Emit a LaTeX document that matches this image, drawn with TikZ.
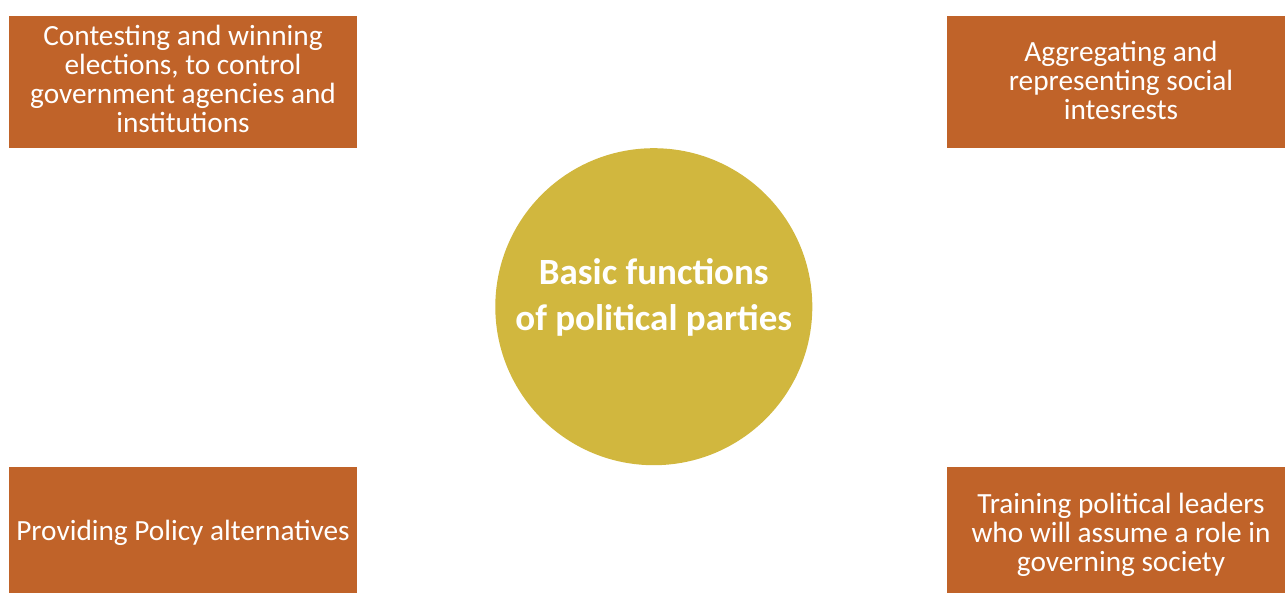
\documentclass[tikz,border=0pt]{standalone}
\usepackage{fontspec}
\setmainfont{Carlito}
\definecolor{boxorange}{RGB}{192,99,41}
\definecolor{circgold}{RGB}{209,183,62}
\begin{document}
\begin{tikzpicture}[x=1pt,y=-1pt,
  fbox/.style={rectangle, fill=boxorange, draw=none, minimum width=348pt, minimum height=132pt, inner sep=0pt},
  ftext/.style={text=white, align=center, inner sep=0pt, font=\fontsize{29.3pt}{29pt}\selectfont},
  hub/.style={circle, fill=circgold, draw=none, minimum size=317pt, inner sep=0pt},
  hubtext/.style={text=white, align=center, inner sep=0pt, font=\bfseries\fontsize{37pt}{46pt}\selectfont}]
\useasboundingbox (0,0) rectangle (1285,592);
\node[hub] (c) at (653.8,306.7) {};
\node[hubtext] (ct) at ([yshift=9pt]c.center) {Basic functions\\of political parties};
\node[fbox] (tl) at (183,82.3) {};
\node[ftext] (tlt) at ([yshift=3pt]tl.center) {Contesting and winning\\elections, to control\\government agencies and\\institutions};
\node[fbox] (tr) at (1121,82.3) {};
\node[ftext] (trt) at ([yshift=2pt]tr.center) {Aggregating and\\representing social\\intesrests};
\node[fbox] (bl) at (183,533) {};
\node[ftext] (blt) at (bl.center) {Providing Policy alternatives};
\node[fbox] (br) at (1121,533) {};
\node[ftext] (brt) at ([yshift=-1.5pt]br.center) {Training political leaders\\who will assume a role in\\governing society};
\end{tikzpicture}
\end{document}
